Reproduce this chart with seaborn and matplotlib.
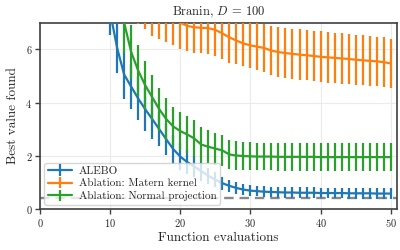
import numpy as np
import pandas as pd
import matplotlib
matplotlib.use("Agg")
import matplotlib.pyplot as plt
import seaborn as sns

evals = list(range(10, 51))

alebo_mean = [7.40, 6.05, 5.05, 4.60, 4.15, 3.75, 3.38, 3.00, 2.62, 2.25,
              1.97, 1.76, 1.60, 1.42, 1.25, 1.10, 0.97, 0.87, 0.79, 0.73,
              0.69, 0.67, 0.65, 0.64, 0.63, 0.62, 0.62, 0.61, 0.61, 0.61,
              0.60, 0.60, 0.60, 0.60, 0.59, 0.59, 0.59, 0.59, 0.58, 0.58, 0.58]
alebo_err = [0.85, 0.95, 0.90, 0.85, 0.80, 0.80, 0.75, 0.65, 0.60, 0.55,
             0.50, 0.45, 0.40, 0.35, 0.30, 0.28, 0.25, 0.23, 0.22, 0.21,
             0.20, 0.20, 0.20, 0.20, 0.20, 0.20, 0.20, 0.20, 0.20, 0.20,
             0.20, 0.20, 0.20, 0.20, 0.20, 0.20, 0.20, 0.20, 0.20, 0.20, 0.20]

matern_mean = [8.50, 8.30, 8.10, 8.00, 7.95, 7.80, 7.55, 7.45, 7.30, 7.15,
               7.00, 6.88, 6.83, 6.81, 6.80, 6.73, 6.60, 6.45, 6.33, 6.22,
               6.15, 6.10, 6.05, 5.95, 5.90, 5.86, 5.83, 5.80, 5.78, 5.75,
               5.72, 5.70, 5.68, 5.66, 5.64, 5.61, 5.59, 5.57, 5.55, 5.52, 5.47]
matern_err = [1.05, 1.05, 1.05, 1.00, 1.00, 1.03, 1.04, 1.06, 1.04, 1.00,
              1.00, 0.93, 0.95, 0.93, 0.98, 0.97, 0.97, 0.95, 0.89, 0.84,
              0.84, 0.88, 0.90, 0.92, 0.93, 0.94, 0.95, 0.95, 0.95, 0.95,
              0.96, 0.96, 0.95, 0.95, 0.95, 0.94, 0.94, 0.93, 0.93, 0.93, 0.93]

normal_mean = [10.0, 8.60, 7.00, 5.90, 5.20, 4.65, 4.20, 3.75, 3.38, 3.10,
               2.93, 2.80, 2.65, 2.42, 2.34, 2.27, 2.20, 2.05, 2.01, 1.99,
               1.98, 1.97, 1.97, 1.97, 1.96, 1.96, 1.96, 1.96, 1.96, 1.96,
               1.95, 1.95, 1.95, 1.95, 1.95, 1.95, 1.95, 1.95, 1.95, 1.95, 1.95]
normal_err = [1.20, 1.20, 1.14, 1.00, 0.95, 0.90, 0.85, 0.80, 0.78, 0.75,
              0.72, 0.70, 0.68, 0.65, 0.62, 0.60, 0.58, 0.56, 0.54, 0.53,
              0.52, 0.52, 0.52, 0.52, 0.52, 0.52, 0.52, 0.52, 0.52, 0.52,
              0.52, 0.52, 0.52, 0.52, 0.52, 0.52, 0.52, 0.52, 0.52, 0.52, 0.52]

labels = ["ALEBO", "Ablation: Matern kernel", "Ablation: Normal projection"]
optimum = 0.397887

sns.set_theme(style="whitegrid")
plt.rcParams.update({
    "font.family": "serif",
    "font.serif": ["cmr10"],
    "mathtext.fontset": "cm",
    "axes.formatter.use_mathtext": True,
    "axes.unicode_minus": False,
})

colors = ["#1f77b4", "#ff7f0e", "#2ca02c"]
means = [alebo_mean, matern_mean, normal_mean]
errs = [alebo_err, matern_err, normal_err]

fig = plt.figure(figsize=(4, 2.5), dpi=100)
ax = fig.add_axes([0.1, 0.164, 0.8925, 0.745])

ax.axhline(optimum, color="#888888", ls="--", lw=1.7, dashes=(4, 2.5), zorder=1)

handles = []
for lab, m, e, c in zip(labels, means, errs, colors):
    df = pd.DataFrame({"x": evals, "y": m})
    sns.lineplot(data=df, x="x", y="y", color=c, lw=1.6, ax=ax, legend=False, zorder=3)
    ax.errorbar(evals, m, yerr=e, fmt="none", ecolor=c, elinewidth=1.6, capsize=0, zorder=3)
    h = ax.errorbar([np.nan], [np.nan], yerr=[np.nan], fmt="-", color=c, lw=1.6,
                    elinewidth=1.6, capsize=0, label=lab)
    handles.append(h)

ax.set_xlim(0, 50.9)
ax.set_ylim(0, 7)
ax.set_xticks([0, 10, 20, 30, 40, 50])
ax.set_yticks([0, 2, 4, 6])
ax.set_xlabel("Function evaluations", fontsize=9.5, labelpad=2)
ax.set_ylabel("Best value found", fontsize=9.5, labelpad=5)
ax.set_title("Branin, $D\\,=\\,100$", fontsize=9, pad=5)
ax.tick_params(axis="both", labelsize=7.5, length=3.5, width=1, color="0.25",
               direction="out", bottom=True, left=True, pad=2)
for s in ax.spines.values():
    s.set_color("0.25")
    s.set_linewidth(1.2)
ax.grid(True, color="#ebebeb", lw=0.8)

leg = ax.legend(handles=handles, labels=labels, loc="lower left", fontsize=8,
                frameon=True, framealpha=0.8, borderpad=0.3, labelspacing=0.25,
                handlelength=2.2, handletextpad=0.6, borderaxespad=0.4)
leg.get_frame().set_edgecolor("#cccccc")
leg.set_zorder(5)

fig.savefig("out.png", dpi=100)
